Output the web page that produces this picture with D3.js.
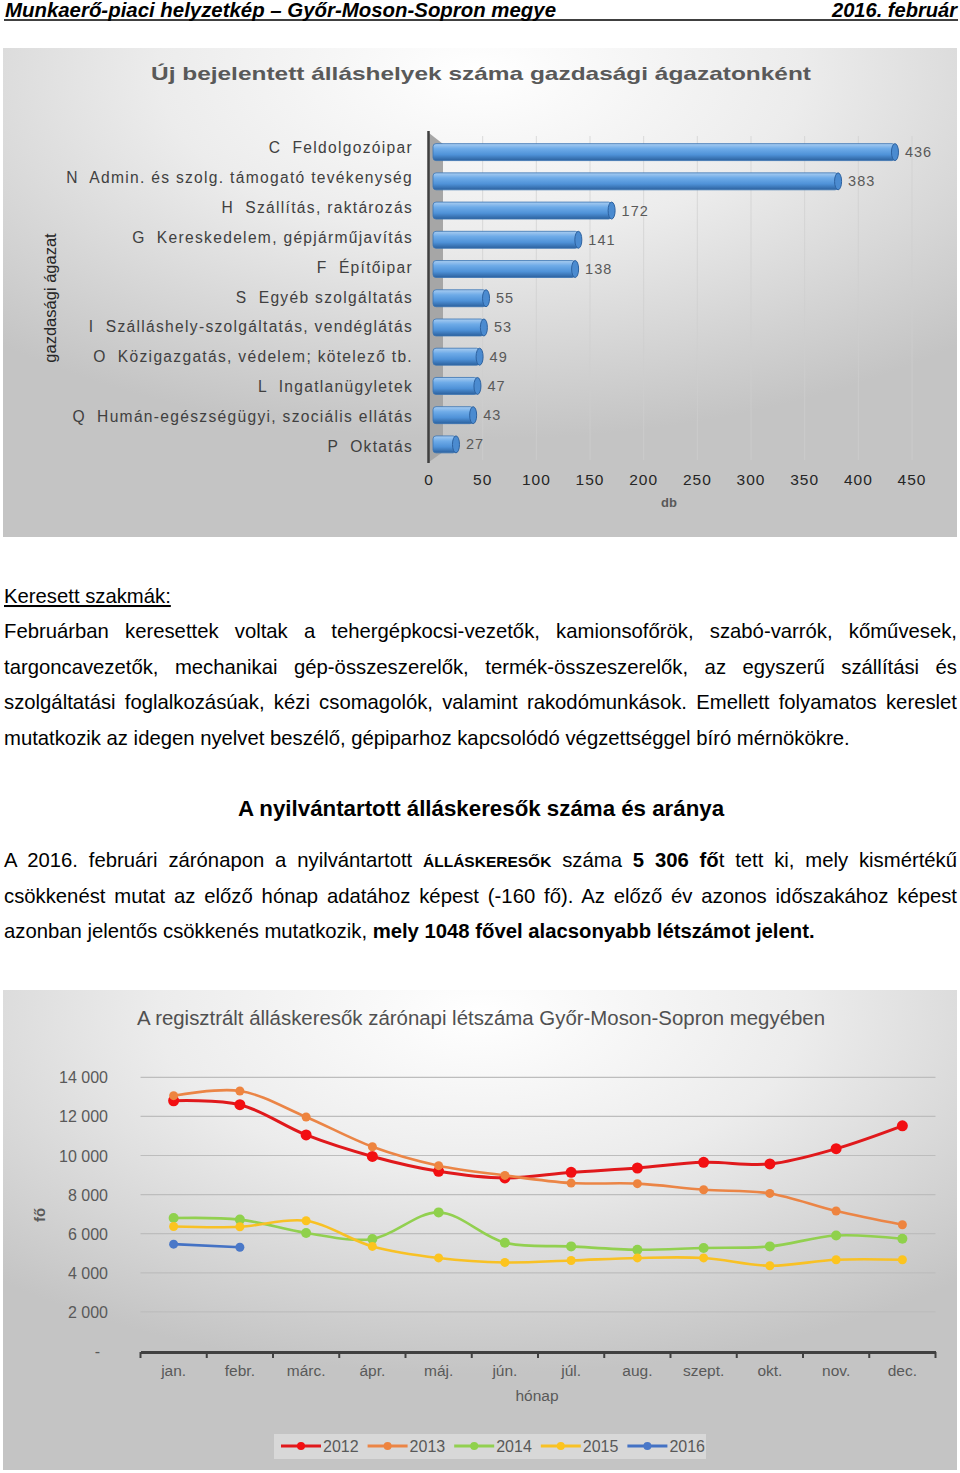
<!DOCTYPE html>
<html>
<head>
<meta charset="utf-8">
<script src="https://cdn.jsdelivr.net/npm/d3@7"></script>
<style>
  body { margin: 0; background: #fff; }
  svg { display: block; }
  text { font-family: "Liberation Sans", Arial, sans-serif; white-space: pre; }
</style>
</head>
<body>
<svg id="page" width="960" height="1473"></svg>
<script>
// ---- bar chart data (new vacancies by sector) ----
const sectors = [
  'C  Feldolgozóipar',
  'N  Admin. és szolg. támogató tevékenység',
  'H  Szállítás, raktározás',
  'G  Kereskedelem, gépjárműjavítás',
  'F  Építőipar',
  'S  Egyéb szolgáltatás',
  'I  Szálláshely-szolgáltatás, vendéglátás',
  'O  Közigazgatás, védelem; kötelező tb.',
  'L  Ingatlanügyletek',
  'Q  Humán-egészségügyi, szociális ellátás',
  'P  Oktatás'
]
const vacancies = [436, 383, 172, 141, 138, 55, 53, 49, 47, 43, 27]
const vacancyTicks = [0, 50, 100, 150, 200, 250, 300, 350, 400, 450]

// ---- line chart data (registered job seekers) ----
const months = ['jan.', 'febr.', 'márc.', 'ápr.', 'máj.', 'jún.', 'júl.', 'aug.', 'szept.', 'okt.', 'nov.', 'dec.']
const years = ['2012', '2013', '2014', '2015', '2016']
const seekers2012 = [12800, 12600, 11050, 9950, 9190, 8850, 9140, 9360, 9650, 9570, 10350, 11520]
const seekers2013 = [13060, 13300, 11970, 10450, 9480, 8980, 8590, 8560, 8250, 8060, 7160, 6460]
const seekers2014 = [6800, 6720, 6040, 5730, 7090, 5540, 5350, 5180, 5270, 5350, 5910, 5740]
const seekers2015 = [6370, 6354, 6660, 5350, 4760, 4530, 4630, 4760, 4760, 4360, 4670, 4670]
const seekers2016 = [5466, 5306]
const seekerTicks = [0, 2000, 4000, 6000, 8000, 10000, 12000, 14000]
const seekerSeries = [seekers2012, seekers2013, seekers2014, seekers2015, seekers2016]

// styles per year
const lineColors = ['#e0191c', '#eb8546', '#92d050', '#f8c125', '#4472c4']
const markerColors = ['#f20f12', '#ee843f', '#8fd14c', '#fcc41f', '#4a78c8']
const markerR = [5.5, 4.5, 5, 4.5, 4.5]

// ---- text ----
const headerLeft = 'Munkaerő-piaci helyzetkép – Győr-Moson-Sopron megye'
const headerRight = '2016. február'
const para1 = [
  'Februárban keresettek voltak a tehergépkocsi-vezetők, kamionsofőrök, szabó-varrók, kőművesek,',
  'targoncavezetők, mechanikai gép-összeszerelők, termék-összeszerelők, az egyszerű szállítási és',
  'szolgáltatási foglalkozásúak, kézi csomagolók, valamint rakodómunkások. Emellett folyamatos kereslet',
  'mutatkozik az idegen nyelvet beszélő, gépiparhoz kapcsolódó végzettséggel bíró mérnökökre.'
]
const para2 = [
  [['A 2016. februári zárónapon a nyilvántartott ', ''], ['ÁLLÁSKERESŐK', 'caps'], [' száma ', ''], ['5 306 fő', 'b'], ['t tett ki, mely kismértékű', '']],
  [['csökkenést mutat az előző hónap adatához képest (-160 fő). Az előző év azonos időszakához képest', '']],
  [['azonban jelentős csökkenés mutatkozik, ', ''], ['mely 1048 fővel alacsonyabb létszámot jelent.', 'b']]
]

const page = d3.select('#page')
const defs = page.append('defs')

function panelGradient(id) {
  const g = defs.append('radialGradient').attr('id', id)
    .attr('cx', 0.5).attr('cy', 0.05).attr('r', 0.75).attr('fx', 0.5).attr('fy', 0.05)
  g.append('stop').attr('offset', 0).attr('stop-color', '#ffffff')
  g.append('stop').attr('offset', 0.45).attr('stop-color', '#ececec')
  g.append('stop').attr('offset', 1).attr('stop-color', '#c4c4c4')
}
panelGradient('panel1')
panelGradient('panel2')

const barGrad = defs.append('linearGradient').attr('id', 'bar')
  .attr('x1', 0).attr('y1', 0).attr('x2', 0).attr('y2', 1)
barGrad.append('stop').attr('offset', 0).attr('stop-color', '#a9cdf1')
barGrad.append('stop').attr('offset', 0.3).attr('stop-color', '#6eabe8')
barGrad.append('stop').attr('offset', 0.65).attr('stop-color', '#4f92d8')
barGrad.append('stop').attr('offset', 1).attr('stop-color', '#2c619e')

// ---- page header ----
page.append('text').attr('x', 5).attr('y', 17)
  .attr('font-size', 20).attr('font-weight', 'bold').attr('font-style', 'italic')
  .attr('textLength', 551).attr('lengthAdjust', 'spacingAndGlyphs')
  .text(headerLeft)
page.append('text').attr('x', 957).attr('y', 17).attr('text-anchor', 'end')
  .attr('font-size', 20).attr('font-weight', 'bold').attr('font-style', 'italic')
  .attr('textLength', 125).attr('lengthAdjust', 'spacingAndGlyphs')
  .text(headerRight)
page.append('line').attr('x1', 4).attr('x2', 958).attr('y1', 20).attr('y2', 20)
  .attr('stroke', '#000').attr('stroke-width', 1.6)

// ================= BAR CHART =================
const g1 = page.append('g')
g1.append('rect').attr('x', 3).attr('y', 48).attr('width', 954).attr('height', 489)
  .attr('fill', 'url(#panel1)')

g1.append('text').attr('x', 481).attr('y', 80).attr('text-anchor', 'middle')
  .attr('font-size', 19).attr('font-weight', 'bold').attr('fill', '#595959')
  .attr('textLength', 660).attr('lengthAdjust', 'spacingAndGlyphs')
  .text('Új bejelentett álláshelyek száma gazdasági ágazatonként')

const bx = d3.scaleLinear().domain([0, 450]).range([429, 912])
const by = d3.scaleBand().domain(sectors).range([137.5, 459]).paddingInner(0.42).paddingOuter(0.21)
const labelY = d3.scalePoint().domain(sectors).range([148, 447])

// gridlines
g1.append('g').selectAll('line').data(vacancyTicks.slice(1)).join('line')
  .attr('x1', d => bx(d)).attr('x2', d => bx(d)).attr('y1', 136).attr('y2', 460)
  .attr('stroke', '#cfcfcf').attr('stroke-opacity', 0.7)

// 3D wall
g1.append('path').attr('d', 'M429,133 L443,144 L443,452 L429,462 Z').attr('fill', '#a6a6a6')
g1.append('line').attr('x1', 428.5).attr('x2', 428.5).attr('y1', 131).attr('y2', 463)
  .attr('stroke', '#3f3f3f').attr('stroke-width', 2.5)

// bars
const bars = g1.append('g').selectAll('g').data(vacancies).join('g')
bars.append('rect')
  .attr('x', bx(0) + 4)
  .attr('y', (d, i) => by(sectors[i]))
  .attr('width', d => bx(d) - 2 - bx(0) - 4)
  .attr('height', by.bandwidth())
  .attr('rx', 3)
  .attr('fill', 'url(#bar)')
  .attr('stroke', '#3a73b3').attr('stroke-width', 0.8)
bars.append('ellipse')
  .attr('cx', d => bx(d) - 2)
  .attr('cy', (d, i) => by(sectors[i]) + by.bandwidth() / 2)
  .attr('rx', 3.5).attr('ry', by.bandwidth() / 2)
  .attr('fill', '#4b8bd0').attr('stroke', '#2d62a0').attr('stroke-width', 1)
bars.append('text')
  .attr('x', d => bx(d) + 8)
  .attr('y', (d, i) => by(sectors[i]) + by.bandwidth() / 2 + 5)
  .attr('font-size', 14.5).attr('letter-spacing', 1).attr('fill', '#595959')
  .text(d => d)

// category labels
g1.append('g').selectAll('text').data(sectors).join('text')
  .attr('x', 413).attr('y', d => labelY(d) + 5).attr('text-anchor', 'end')
  .attr('font-size', 15.6).attr('letter-spacing', 1.3).attr('fill', '#404040')
  .text(d => d)

// x axis labels
g1.append('g').selectAll('text').data(vacancyTicks).join('text')
  .attr('x', d => bx(d)).attr('y', 485).attr('text-anchor', 'middle')
  .attr('font-size', 15.5).attr('letter-spacing', 1).attr('fill', '#262626')
  .text(d => d)
g1.append('text').attr('x', 669).attr('y', 507).attr('text-anchor', 'middle')
  .attr('font-size', 13).attr('font-weight', 'bold').attr('fill', '#595959').text('db')
g1.append('text').attr('transform', 'translate(56,298) rotate(-90)').attr('text-anchor', 'middle')
  .attr('font-size', 16.5).attr('fill', '#262626').text('gazdasági ágazat')

// ================= TEXT BLOCK =================
const bodySize = 20.3
function justify(sel, width) {
  const spaces = (sel.text().match(/ /g) || []).length
  const w = sel.node().getComputedTextLength()
  if (spaces) sel.attr('word-spacing', (width - w) / spaces)
}
page.append('text').attr('x', 4).attr('y', 603).attr('font-size', bodySize)
  .attr('text-decoration', 'underline').text('Keresett szakmák:')

para1.forEach((line, i) => {
  const t = page.append('text').attr('x', 4).attr('y', 638 + i * 35.6).attr('font-size', bodySize).text(line)
  if (i < para1.length - 1) justify(t, 953)
})

page.append('text').attr('x', 481).attr('y', 816).attr('text-anchor', 'middle')
  .attr('font-size', 22.3).attr('font-weight', 'bold').text('A nyilvántartott álláskeresők száma és aránya')

para2.forEach((runs, i) => {
  const t = page.append('text').attr('x', 4).attr('y', 867 + i * 35.6).attr('font-size', bodySize)
  runs.forEach(([s, k]) => {
    const sp = t.append('tspan').text(s)
    if (k === 'b') sp.attr('font-weight', 'bold')
    if (k === 'caps') sp.attr('font-weight', 'bold').attr('font-size', 15.5)
  })
  if (i < para2.length - 1) justify(t, 953)
})

// ================= LINE CHART =================
const g2 = page.append('g')
g2.append('rect').attr('x', 3).attr('y', 990).attr('width', 954).attr('height', 480)
  .attr('fill', 'url(#panel2)')
g2.append('text').attr('x', 481).attr('y', 1025).attr('text-anchor', 'middle')
  .attr('font-size', 19.5).attr('fill', '#505050')
  .attr('textLength', 688).attr('lengthAdjust', 'spacingAndGlyphs')
  .text('A regisztrált álláskeresők zárónapi létszáma Győr-Moson-Sopron megyében')

const lx = d3.scaleBand().domain(months).range([140.5, 935.5])
const ly = d3.scaleLinear().domain([0, 14000]).range([1351, 1077.3])
const fmt = d3.formatLocale({ decimal: ',', thousands: ' ', grouping: [3], currency: ['', ''] }).format(',')

g2.append('g').selectAll('line').data(seekerTicks.slice(1)).join('line')
  .attr('x1', 140.5).attr('x2', 935.5).attr('y1', d => ly(d)).attr('y2', d => ly(d))
  .attr('stroke', '#bdbdbd').attr('stroke-width', 1.2)

g2.append('g').selectAll('text').data(seekerTicks).join('text')
  .attr('x', d => d === 0 ? 100 : 108).attr('y', d => ly(d) + 6).attr('text-anchor', 'end')
  .attr('font-size', 16).attr('fill', '#595959')
  .text(d => d === 0 ? '-' : fmt(d))

// x axis
const xAxis = g2.append('g').attr('transform', `translate(0,${ly(0) + 1})`)
  .call(d3.axisBottom(lx).tickSize(0).tickFormat(''))
xAxis.select('.domain').attr('stroke', '#404040').attr('stroke-width', 3)
xAxis.selectAll('.bound').data(d3.range(months.length + 1)).join('line')
  .attr('x1', i => lx.range()[0] + i * lx.step()).attr('x2', i => lx.range()[0] + i * lx.step())
  .attr('y1', 0).attr('y2', 6).attr('stroke', '#404040').attr('stroke-width', 2)
g2.append('g').selectAll('text').data(months).join('text')
  .attr('x', d => lx(d) + lx.bandwidth() / 2).attr('y', 1376).attr('text-anchor', 'middle')
  .attr('font-size', 15.5).attr('fill', '#595959').text(d => d)
g2.append('text').attr('x', 537).attr('y', 1401).attr('text-anchor', 'middle')
  .attr('font-size', 15.5).attr('fill', '#595959').text('hónap')
g2.append('text').attr('transform', 'translate(45,1215) rotate(-90)').attr('text-anchor', 'middle')
  .attr('font-size', 15).attr('font-weight', 'bold').attr('fill', '#595959').text('fő')

const line = d3.line()
  .x((d, i) => lx(months[i]) + lx.bandwidth() / 2)
  .y(d => ly(d))
  .curve(d3.curveCatmullRom.alpha(0.5))

const series = g2.append('g').selectAll('g').data(seekerSeries).join('g')
series.append('path').attr('d', d => line(d)).attr('fill', 'none')
  .attr('stroke', (d, i) => lineColors[i]).attr('stroke-width', (d, i) => i === 0 ? 3 : 2.6)
series.each(function (d, i) {
  d3.select(this).selectAll('circle').data(d).join('circle')
    .attr('cx', (v, j) => lx(months[j]) + lx.bandwidth() / 2)
    .attr('cy', v => ly(v))
    .attr('r', markerR[i])
    .attr('fill', markerColors[i])
})

// legend
const leg = g2.append('g')
leg.append('rect').attr('x', 274).attr('y', 1434).attr('width', 432).attr('height', 25)
  .attr('fill', '#ffffff').attr('fill-opacity', 0.35)
const item = leg.selectAll('g').data(years).join('g')
  .attr('transform', (d, i) => `translate(${281 + i * 86.6},1446)`)
item.append('line').attr('x1', 0).attr('x2', 40).attr('stroke', (d, i) => lineColors[i]).attr('stroke-width', 3)
item.append('circle').attr('cx', 20).attr('r', 4).attr('fill', (d, i) => markerColors[i])
item.append('text').attr('x', 42).attr('y', 6).attr('font-size', 16).attr('fill', '#595959').text(d => d)
</script>
</body>
</html>
